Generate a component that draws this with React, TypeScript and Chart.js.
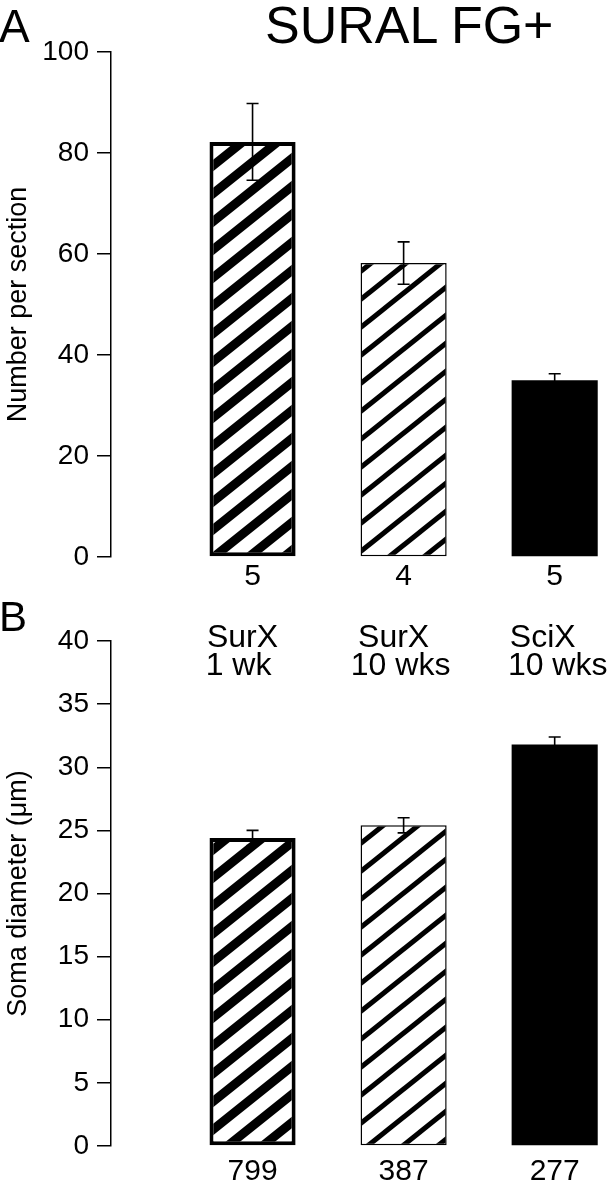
import React, { useEffect, useRef } from "react";
import { Chart, registerables } from "chart.js";

Chart.register(...registerables);

// ---------- data ----------
const groupLines: string[][] = [["SurX", "1 wk"], ["SurX", "10 wks"], ["SciX", "10 wks"]];
const positions = [0, 1, 2];
const countsA = ["5", "4", "5"];
const numberPerSection = [82.2, 58.2, 35.0];
const numberPerSectionErr = [7.6, 4.2, 1.3];
const countsB = ["799", "387", "277"];
const somaDiameter = [24.4, 25.4, 31.8];
const somaDiameterErr = [0.6, 0.6, 0.6];
const yMaxA = 100;
const yStepA = 20;
const yMaxB = 40;
const yStepB = 5;

const FONT = "'Liberation Sans', Arial, Helvetica, sans-serif";

function stripePattern(lineW: number): CanvasPattern | string {
  const H = 35, V = 28;
  const c = document.createElement("canvas");
  c.width = H;
  c.height = V;
  const g = c.getContext("2d");
  if (!g) return "#fff";
  g.fillStyle = "#fff";
  g.fillRect(0, 0, H, V);
  g.strokeStyle = "#000";
  g.lineWidth = lineW;
  for (let k = -3; k <= 4; k++) {
    g.beginPath();
    g.moveTo(k * H - 2 * H, 2 * V);
    g.lineTo(k * H + 2 * H, -2 * V);
    g.stroke();
  }
  return g.createPattern(c, "repeat") || "#fff";
}

const errorBarPlugin = {
  id: "errorBars",
  afterDatasetsDraw(chart: any, _args: any, opts: any) {
    const errs: number[] = opts.errors || [];
    const vals: number[] = opts.values || [];
    const meta = chart.getDatasetMeta(0);
    const ys = chart.scales.y;
    const ctx = chart.ctx;
    ctx.save();
    ctx.strokeStyle = "#000";
    ctx.lineWidth = 1.6;
    meta.data.forEach((el: any, i: number) => {
      const x = el.x;
      const top = ys.getPixelForValue(vals[i] + errs[i]);
      const bot = ys.getPixelForValue(vals[i] - errs[i]);
      const cw = 6;
      ctx.beginPath();
      ctx.moveTo(x, top);
      ctx.lineTo(x, bot);
      ctx.moveTo(x - cw, top);
      ctx.lineTo(x + cw, top);
      ctx.moveTo(x - cw, bot);
      ctx.lineTo(x + cw, bot);
      ctx.stroke();
    });
    ctx.restore();
  },
};

const groupLabelPlugin = {
  id: "groupLabels",
  afterDraw(chart: any, _args: any, opts: any) {
    if (!opts || !opts.lines) return;
    const xs = chart.scales.x;
    const ctx = chart.ctx;
    const top = chart.chartArea.top;
    ctx.save();
    ctx.fillStyle = "#000";
    ctx.font = `32px ${FONT}`;
    ctx.textAlign = "center";
    ctx.textBaseline = "middle";
    (opts.lines as string[][]).forEach((lines, i) => {
      const cx = xs.getPixelForValue(positions[i]);
      lines.forEach((t, j) => {
        const dx = opts.shift ? opts.shift[i][j] : 0;
        ctx.fillText(t, cx + dx, top - 3 + j * 28);
      });
    });
    ctx.restore();
  },
};

function makeConfig(
  values: number[],
  errs: number[],
  counts: string[],
  yMax: number,
  yStep: number,
  yTitle: string,
  padTop: number,
  xHeight: number,
  xPad: number,
  fills: any[],
  extra: any
): any {
  return {
    type: "bar",
    data: {
      datasets: [
        {
          data: positions.map((p, i) => ({ x: p, y: values[i] })),
          backgroundColor: fills,
          borderColor: "#000",
          borderWidth: [4, 1.5, 0],
          borderSkipped: false,
          barPercentage: 0.57,
          categoryPercentage: 1,
        },
      ],
    },
    options: {
      responsive: false,
      maintainAspectRatio: false,
      animation: false,
      events: [],
      layout: { padding: { top: padTop, right: 10, left: 0, bottom: 0 } },
      plugins: {
        legend: { display: false },
        tooltip: { enabled: false },
        errorBars: { errors: errs, values },
        groupLabels: extra,
      },
      scales: {
        x: {
          type: "linear",
          offset: false,
          min: -0.937,
          max: 2.3,
          afterBuildTicks: (s: any) => {
            s.ticks = positions.map((v) => ({ value: v }));
          },
          afterFit: (s: any) => {
            s.height = xHeight;
          },
          grid: { display: false, drawTicks: false, offset: false },
          border: { display: false },
          ticks: {
            callback: (_v: any, i: number) => counts[i],
            font: { size: 30, family: FONT },
            color: "#000",
            padding: xPad,
            maxRotation: 0,
            autoSkip: false,
          },
        },
        y: {
          min: 0,
          max: yMax,
          afterFit: (s: any) => {
            s.width = 111;
          },
          ticks: {
            stepSize: yStep,
            font: { size: 28, family: FONT },
            color: "#000",
            padding: 8,
          },
          grid: {
            drawOnChartArea: false,
            drawTicks: true,
            tickLength: 14,
            color: "#000",
            lineWidth: 1.5,
          },
          border: { display: true, color: "#000", width: 1.5 },
          title: {
            display: true,
            text: yTitle,
            color: "#000",
            font: { size: 27, family: FONT },
            padding: { top: 2, bottom: 0 },
          },
        },
      },
    },
    plugins: [errorBarPlugin, groupLabelPlugin],
  };
}

export default function App() {
  const refA = useRef<HTMLCanvasElement | null>(null);
  const refB = useRef<HTMLCanvasElement | null>(null);

  useEffect(() => {
    Chart.defaults.font.family = FONT;
    Chart.defaults.color = "#000";
    const thick = stripePattern(9);
    const thin = stripePattern(5);
    const fills = [thick, thin, "#000"];
    const a = new Chart(
      refA.current as HTMLCanvasElement,
      makeConfig(numberPerSection, numberPerSectionErr, countsA, yMaxA, yStepA,
        "Number per section", 52, 43, 2, fills, {})
    );
    const b = new Chart(
      refB.current as HTMLCanvasElement,
      makeConfig(somaDiameter, somaDiameterErr, countsB, yMaxB, yStepB,
        "Soma diameter (μm)", 41, 53, 8, fills, {
          lines: groupLines,
          shift: [[-10, -14], [-10, -3], [-12, 3]],
        })
    );
    return () => {
      a.destroy();
      b.destroy();
    };
  }, []);

  const txt: React.CSSProperties = {
    position: "absolute",
    fontFamily: FONT,
    lineHeight: 1,
    color: "#000",
    whiteSpace: "nowrap",
  };

  return (
    <div style={{ position: "absolute", left: 0, top: 0, width: 610, height: 1199, background: "#fff", overflow: "hidden" }}>
      <canvas ref={refA} width={610} height={600} style={{ position: "absolute", left: 0, top: 0, display: "block" }} />
      <canvas ref={refB} width={610} height={599} style={{ position: "absolute", left: 0, top: 600, display: "block" }} />
      <div style={{ ...txt, left: -1, top: 3, fontSize: 46 }}>A</div>
      <div style={{ ...txt, left: -1, top: 596, fontSize: 42 }}>B</div>
      <div style={{ ...txt, left: 265, top: -1, fontSize: 52 }}>SURAL FG+</div>
    </div>
  );
}
